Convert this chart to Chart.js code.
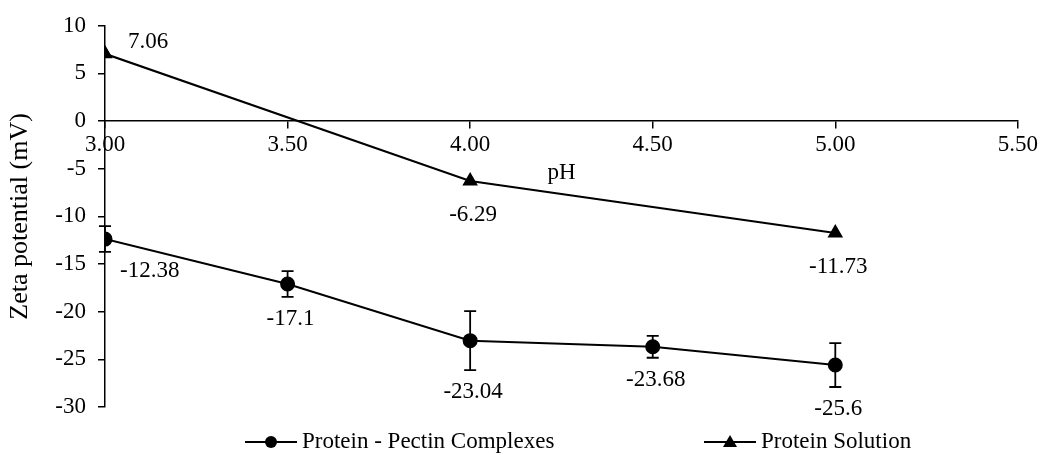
<!DOCTYPE html>
<html>
<head>
<meta charset="utf-8">
<script src="https://cdn.jsdelivr.net/npm/chart.js@4/dist/chart.umd.min.js"></script>
<style>
  html, body { margin: 0; padding: 0; background: #fff; }
  #wrap { width: 1041px; height: 455px; }
</style>
</head>
<body>
<div id="wrap"><canvas id="chart"></canvas></div>
<script>
// values
const phComplex = [3.0, 3.5, 4.0, 4.5, 5.0]
const zetaComplex = [-12.38, -17.1, -23.04, -23.68, -25.6]
const errComplex = [1.35, 1.35, 3.1, 1.15, 2.3]

const phSolution = [3.0, 4.0, 5.0]
const zetaSolution = [7.06, -6.29, -11.73]

const seriesNames = ['Protein - Pectin Complexes', 'Protein Solution']
const xTitle = 'pH'
const yTitle = 'Zeta potential (mV)'

const FONT = '"Liberation Serif", "Times New Roman", serif'
const INK = '#000'

const toPoints = (xs, ys) => xs.map((x, i) => ({ x: x, y: ys[i] }))

// vertical error bars with caps for the complexes series
const errorBars = {
    id: 'errorBars',
    afterDatasetsDraw (chart) {
        const { ctx } = chart
        const y = chart.scales.y
        const meta = chart.getDatasetMeta(0)
        ctx.save()
        ctx.strokeStyle = INK
        ctx.lineWidth = 1.8
        meta.data.forEach((pt, i) => {
            const v = zetaComplex[i]
            const top = y.getPixelForValue(v + errComplex[i])
            const bot = y.getPixelForValue(v - errComplex[i])
            ctx.beginPath()
            ctx.moveTo(pt.x, top); ctx.lineTo(pt.x, bot)
            ctx.moveTo(pt.x - 6, top); ctx.lineTo(pt.x + 6, top)
            ctx.moveTo(pt.x - 6, bot); ctx.lineTo(pt.x + 6, bot)
            ctx.stroke()
        })
        ctx.restore()
    }
}

// value labels next to each point
const valueLabels = {
    id: 'valueLabels',
    afterDatasetsDraw (chart) {
        const { ctx } = chart
        const y = chart.scales.y
        ctx.save()
        ctx.fillStyle = INK
        ctx.font = '23px ' + FONT
        ctx.textBaseline = 'middle'
        chart.data.datasets.forEach((ds, d) => {
            chart.getDatasetMeta(d).data.forEach((pt, i) => {
                const v = ds.data[i].y
                const txt = String(v)
                if (v > 0) {
                    ctx.textAlign = 'left'
                    ctx.fillText(txt, pt.x + 23, pt.y - 12)
                    return
                }
                let below = pt.y + 34
                if (d === 0) below = y.getPixelForValue(v - errComplex[i]) + 22
                if (i === 0) {
                    ctx.textAlign = 'left'
                    ctx.fillText(txt, pt.x + 15, pt.y + 32)
                } else {
                    ctx.textAlign = 'center'
                    ctx.fillText(txt, pt.x + 3, below)
                }
            })
        })
        ctx.restore()
    }
}

function drawMarker (ctx, style, x, y) {
    ctx.beginPath()
    if (style === 'triangle') {
        ctx.moveTo(x, y - 7)
        ctx.lineTo(x + 7, y + 5)
        ctx.lineTo(x - 7, y + 5)
        ctx.closePath()
    } else {
        ctx.arc(x, y, 6, 0, Math.PI * 2)
    }
    ctx.fill()
}

// legend: short line with marker, then the name
const lineLegend = {
    id: 'lineLegend',
    afterDraw (chart) {
        const { ctx, chartArea } = chart
        const ly = chartArea.bottom + 35
        const starts = [chartArea.left + 140, chartArea.left + 599]
        ctx.save()
        ctx.font = '23px ' + FONT
        ctx.textBaseline = 'middle'
        ctx.textAlign = 'left'
        ctx.fillStyle = INK
        ctx.strokeStyle = INK
        ctx.lineWidth = 2
        chart.data.datasets.forEach((ds, d) => {
            const x0 = starts[d]
            ctx.beginPath()
            ctx.moveTo(x0, ly); ctx.lineTo(x0 + 52, ly)
            ctx.stroke()
            drawMarker(ctx, ds.pointStyle, x0 + 26, ly)
            ctx.fillText(ds.label, x0 + 57, ly)
        })
        ctx.restore()
    }
}

new Chart(document.getElementById('chart'), {
    type: 'line',
    data: {
        datasets: [
            {
                label: seriesNames[0],
                data: toPoints(phComplex, zetaComplex),
                borderColor: INK,
                backgroundColor: INK,
                borderWidth: 2,
                pointStyle: 'circle',
                pointRadius: 6.5,
                tension: 0
            },
            {
                label: seriesNames[1],
                data: toPoints(phSolution, zetaSolution),
                borderColor: INK,
                backgroundColor: INK,
                borderWidth: 2,
                pointStyle: 'triangle',
                pointRadius: 7,
                tension: 0
            }
        ]
    },
    options: {
        responsive: true,
        maintainAspectRatio: false,
        animation: false,
        layout: { padding: { left: 0, right: 21, top: 23, bottom: 48 } },
        plugins: {
            legend: { display: false },
            tooltip: { enabled: false }
        },
        scales: {
            x: {
                type: 'linear',
                position: { y: 0 },
                min: 3,
                max: 5.5,
                ticks: {
                    stepSize: 0.5,
                    color: INK,
                    padding: 3,
                    font: { family: FONT, size: 23 },
                    maxRotation: 0,
                    callback: v => v.toFixed(2)
                },
                grid: { drawOnChartArea: false, drawTicks: true, tickLength: 7, color: INK, lineWidth: 1.5 },
                border: { color: INK, width: 1.5 },
                title: {
                    display: true,
                    text: xTitle,
                    color: INK,
                    font: { family: FONT, size: 23, lineHeight: 1 },
                    padding: { top: 0, bottom: 0 }
                }
            },
            y: {
                min: -30,
                max: 10,
                ticks: {
                    stepSize: 5,
                    color: INK,
                    padding: 12,
                    font: { family: FONT, size: 23 }
                },
                grid: { drawOnChartArea: false, drawTicks: true, tickLength: 7, color: INK, lineWidth: 1.5 },
                border: { color: INK, width: 1.5 },
                title: {
                    display: true,
                    text: yTitle,
                    color: INK,
                    font: { family: FONT, size: 26, lineHeight: 1.1 },
                    padding: { top: 6, bottom: 0 }
                },
                afterFit: s => { s.width = 105 }
            }
        }
    },
    plugins: [errorBars, valueLabels, lineLegend]
})
</script>
</body>
</html>
